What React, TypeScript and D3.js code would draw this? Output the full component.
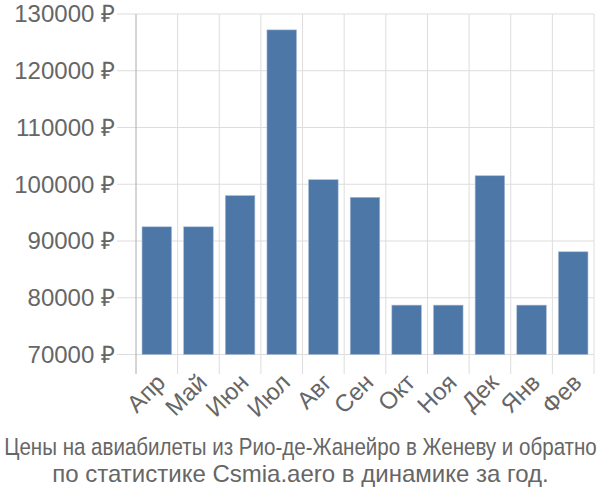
import React, { useLayoutEffect, useRef, useState } from "react";
import * as d3 from "d3";

const months = ["Апр", "Май", "Июн", "Июл", "Авг", "Сен", "Окт", "Ноя", "Дек", "Янв", "Фев"];
const prices = [92500, 92500, 98000, 127200, 100800, 97700, 78700, 78700, 101500, 78700, 88100];
const yTicks = [70000, 80000, 90000, 100000, 110000, 120000, 130000];
const titleLines = [
  "Цены на авиабилеты из Рио-де-Жанейро в Женеву и обратно",
  "по статистике Csmia.aero в динамике за год.",
];

export default function App() {
  const W = 600, H = 500;
  const left = 136, right = 594, top = 14, bottom = 354.5;
  const x = d3.scaleBand<string>().domain(months).range([left, right]).paddingInner(0.29).paddingOuter(0.145);
  const step = (right - left) / months.length;
  const y = d3.scaleLinear().domain([70000, 130000]).range([bottom, top]);
  const font = "'Liberation Sans', Arial, sans-serif";
  const grid = "#dddddd";
  const text = "#666666";
  const titleRef = useRef<SVGTextElement>(null);
  const [sx, setSx] = useState(1);
  useLayoutEffect(() => {
    if (titleRef.current) {
      const w = titleRef.current.getComputedTextLength();
      if (w > 593) setSx(593 / w);
    }
  }, []);
  return (
    <svg width={W} height={H} style={{ position: "absolute", left: 0, top: 0 }} fontFamily={font}>
      {yTicks.map((t) => (
        <g key={t}>
          <line x1={117} x2={right} y1={y(t)} y2={y(t)} stroke={grid} strokeWidth={1} />
          <text x={115} y={y(t)} dy="0.35em" textAnchor="end" fontSize={24} fill={text}>
            {t} ₽
          </text>
        </g>
      ))}
      {d3.range(months.length + 1).map((i) => (
        <line key={i} x1={left + i * step} x2={left + i * step} y1={top} y2={374} stroke={i === 0 ? "#aaaaaa" : grid} strokeWidth={1} />
      ))}
      {months.map((m, i) => (
        <rect key={m} x={x(m)!} width={x.bandwidth()} y={y(prices[i])} height={bottom - y(prices[i])} fill="#4c77a6" stroke="#a9bdd4" strokeWidth={0.6} />
      ))}
      {months.map((m) => {
        const cx = x(m)! + x.bandwidth() / 2 + 4;
        const cy = 378;
        return (
          <text key={m} transform={`translate(${cx},${cy}) rotate(-45)`} textAnchor="end" dy="0.35em" fontSize={24} fill={text}>
            {m}
          </text>
        );
      })}
      <g transform={`translate(300.5,455) scale(${sx},1)`}>
        <text ref={titleRef} x={0} y={0} textAnchor="middle" fontSize={24} fill={text}>
          {titleLines[0]}
        </text>
      </g>
      <text x={300.5} y={482} textAnchor="middle" fontSize={24} fill={text}>
        {titleLines[1]}
      </text>
    </svg>
  );
}
